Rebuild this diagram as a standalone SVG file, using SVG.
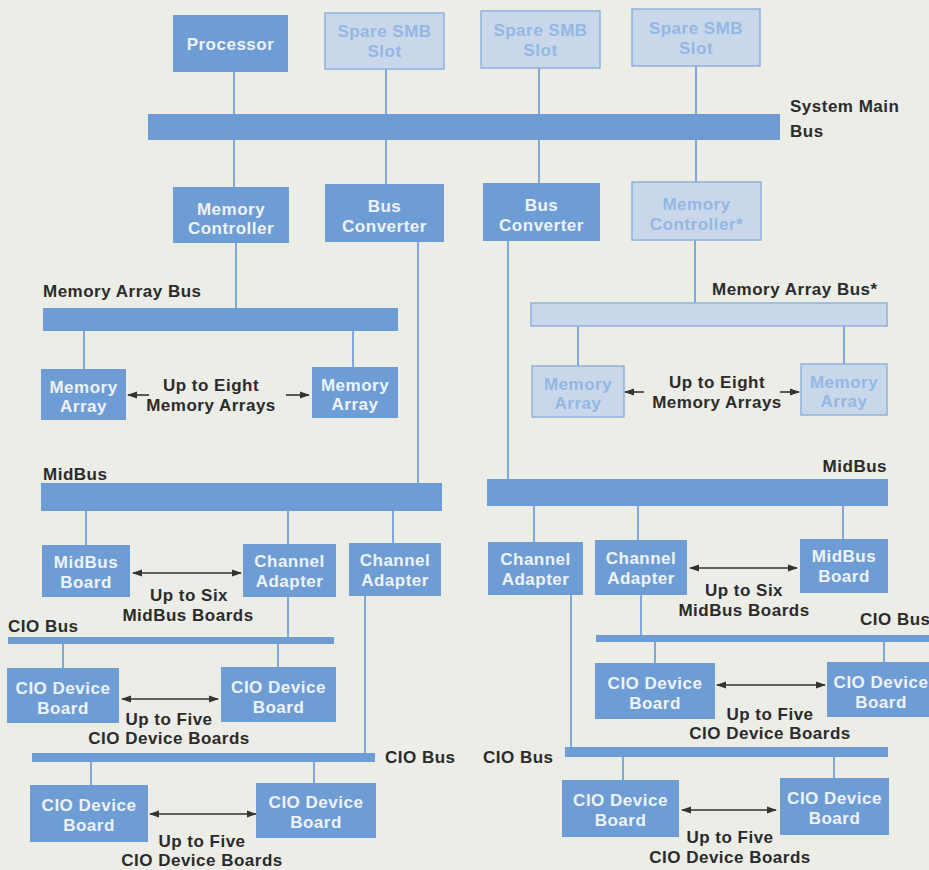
<svg xmlns="http://www.w3.org/2000/svg" width="929" height="870" viewBox="0 0 929 870">
  <defs>
    <style>
      .box { fill: #6e9dd6; }
      .opt { fill: #c9d7ea; stroke: #8fb1dd; stroke-width: 1.5; }
      .bus { fill: #6e9dd6; }
      .wire { stroke: #80a8d8; stroke-width: 2; fill: none; }
      .arr { stroke: #333333; stroke-width: 1.6; fill: none; }
      text { font-family: "Liberation Sans", Arial, sans-serif; font-weight: bold; font-size: 17px; letter-spacing: 0.5px; }
      .bt { fill: #eef3f9; text-anchor: middle; }
      .ot { fill: #94b7e4; text-anchor: middle; }
      .lab { fill: #2b2b2b; }
      .mid { text-anchor: middle; }
      .end { text-anchor: end; }
    </style>
    <marker id="head" markerUnits="userSpaceOnUse" markerWidth="10" markerHeight="8" refX="9" refY="4" orient="auto-start-reverse">
      <path d="M0,0.5 L10,4 L0,7.5 Z" fill="#333333"/>
    </marker>
  </defs>

  <!-- paper -->
  <rect x="0" y="0" width="929" height="870" fill="#ecede6"/>

  <!-- connectors: bus taps, inter-level links and "up to n" arrows -->
  <g id="connectors">
    <!-- system main bus taps -->
    <line class="wire" x1="234" y1="72" x2="234" y2="116"/>
    <line class="wire" x1="386" y1="69" x2="386" y2="116"/>
    <line class="wire" x1="539" y1="68" x2="539" y2="116"/>
    <line class="wire" x1="696" y1="66" x2="696" y2="116"/>
    <line class="wire" x1="234" y1="139" x2="234" y2="187"/>
    <line class="wire" x1="386" y1="139" x2="386" y2="184"/>
    <line class="wire" x1="539" y1="139" x2="539" y2="183"/>
    <line class="wire" x1="696" y1="139" x2="696" y2="182"/>
    <!-- controllers to memory array buses -->
    <line class="wire" x1="236" y1="243" x2="236" y2="308"/>
    <line class="wire" x1="695" y1="240" x2="695" y2="303"/>
    <line class="wire" x1="84" y1="331" x2="84" y2="369"/>
    <line class="wire" x1="353" y1="331" x2="353" y2="367"/>
    <line class="wire" x1="578" y1="326" x2="578" y2="366"/>
    <line class="wire" x1="844" y1="326" x2="844" y2="364"/>
    <!-- bus converters to midbuses -->
    <line class="wire" x1="418" y1="242" x2="418" y2="483"/>
    <line class="wire" x1="508" y1="241" x2="508" y2="479"/>
    <!-- midbus taps -->
    <line class="wire" x1="86" y1="511" x2="86" y2="545"/>
    <line class="wire" x1="288" y1="511" x2="288" y2="544"/>
    <line class="wire" x1="393" y1="511" x2="393" y2="543"/>
    <line class="wire" x1="534" y1="506" x2="534" y2="542"/>
    <line class="wire" x1="638" y1="506" x2="638" y2="540"/>
    <line class="wire" x1="843" y1="506" x2="843" y2="539"/>
    <!-- channel adapters to CIO buses -->
    <line class="wire" x1="288" y1="597" x2="288" y2="637"/>
    <line class="wire" x1="365" y1="596" x2="365" y2="753"/>
    <line class="wire" x1="641" y1="595" x2="641" y2="635"/>
    <line class="wire" x1="571" y1="595" x2="571" y2="747"/>
    <!-- CIO bus taps -->
    <line class="wire" x1="63" y1="644" x2="63" y2="668"/>
    <line class="wire" x1="278" y1="644" x2="278" y2="667"/>
    <line class="wire" x1="91" y1="762" x2="91" y2="785"/>
    <line class="wire" x1="314" y1="762" x2="314" y2="783"/>
    <line class="wire" x1="655" y1="642" x2="655" y2="663"/>
    <line class="wire" x1="884" y1="642" x2="884" y2="662"/>
    <line class="wire" x1="623" y1="757" x2="623" y2="780"/>
    <line class="wire" x1="834" y1="757" x2="834" y2="778"/>

    <!-- range arrows -->
    <line class="arr" x1="149" y1="395" x2="128" y2="395" marker-end="url(#head)"/>
    <line class="arr" x1="286" y1="395" x2="309" y2="395" marker-end="url(#head)"/>
    <line class="arr" x1="644" y1="392" x2="625" y2="392" marker-end="url(#head)"/>
    <line class="arr" x1="780" y1="392" x2="799" y2="392" marker-end="url(#head)"/>
    <line class="arr" x1="133" y1="573" x2="241" y2="573" marker-start="url(#head)" marker-end="url(#head)"/>
    <line class="arr" x1="690" y1="568" x2="797" y2="568" marker-start="url(#head)" marker-end="url(#head)"/>
    <line class="arr" x1="122" y1="699" x2="218" y2="699" marker-start="url(#head)" marker-end="url(#head)"/>
    <line class="arr" x1="150" y1="814" x2="256" y2="814" marker-start="url(#head)" marker-end="url(#head)"/>
    <line class="arr" x1="717" y1="685" x2="825" y2="685" marker-start="url(#head)" marker-end="url(#head)"/>
    <line class="arr" x1="682" y1="810" x2="776" y2="810" marker-start="url(#head)" marker-end="url(#head)"/>
  </g>

  <!-- buses -->
  <g id="system-main-bus">
    <rect class="bus" x="148" y="114" width="632" height="26"/>
    <text class="lab" x="790" y="112">System Main</text>
    <text class="lab" x="790" y="137">Bus</text>
  </g>
  <g id="memory-array-bus-1">
    <rect class="bus" x="43" y="308" width="355" height="23"/>
    <text class="lab" x="43" y="297">Memory Array Bus</text>
  </g>
  <g id="memory-array-bus-2">
    <rect class="opt" x="531" y="303" width="356" height="23"/>
    <text class="lab" x="712" y="295">Memory Array Bus*</text>
  </g>
  <g id="midbus-1">
    <rect class="bus" x="41" y="483" width="401" height="28"/>
    <text class="lab" x="43" y="480">MidBus</text>
  </g>
  <g id="midbus-2">
    <rect class="bus" x="487" y="479" width="401" height="27"/>
    <text class="lab end" x="887" y="472">MidBus</text>
  </g>
  <g id="cio-bus-1">
    <rect class="bus" x="8" y="637" width="326" height="7"/>
    <text class="lab" x="8" y="632">CIO Bus</text>
  </g>
  <g id="cio-bus-2">
    <rect class="bus" x="32" y="753" width="343" height="9"/>
    <text class="lab" x="385" y="763">CIO Bus</text>
  </g>
  <g id="cio-bus-3">
    <rect class="bus" x="596" y="635" width="340" height="7"/>
    <text class="lab" x="860" y="625">CIO Bus</text>
  </g>
  <g id="cio-bus-4">
    <rect class="bus" x="565" y="747" width="323" height="10"/>
    <text class="lab" x="483" y="763">CIO Bus</text>
  </g>

  <!-- system main bus modules -->
  <g id="processor">
    <rect class="box" x="173" y="15" width="115" height="57"/>
    <text class="bt" x="230.5" y="50">Processor</text>
  </g>
  <g id="spare-slot-1">
    <rect class="opt" x="325" y="13" width="119" height="56"/>
    <text class="ot" x="384.5" y="37">Spare SMB</text>
    <text class="ot" x="384.5" y="57">Slot</text>
  </g>
  <g id="spare-slot-2">
    <rect class="opt" x="481" y="11" width="119" height="57"/>
    <text class="ot" x="540.5" y="36">Spare SMB</text>
    <text class="ot" x="540.5" y="56">Slot</text>
  </g>
  <g id="spare-slot-3">
    <rect class="opt" x="632" y="9" width="128" height="57"/>
    <text class="ot" x="696" y="34">Spare SMB</text>
    <text class="ot" x="696" y="54">Slot</text>
  </g>
  <g id="memory-controller-1">
    <rect class="box" x="173" y="187" width="116" height="56"/>
    <text class="bt" x="231" y="215">Memory</text>
    <text class="bt" x="231" y="234">Controller</text>
  </g>
  <g id="bus-converter-1">
    <rect class="box" x="325" y="184" width="119" height="58"/>
    <text class="bt" x="384.5" y="212">Bus</text>
    <text class="bt" x="384.5" y="232">Converter</text>
  </g>
  <g id="bus-converter-2">
    <rect class="box" x="483" y="183" width="117" height="58"/>
    <text class="bt" x="541.5" y="211">Bus</text>
    <text class="bt" x="541.5" y="231">Converter</text>
  </g>
  <g id="memory-controller-2">
    <rect class="opt" x="632" y="182" width="129" height="58"/>
    <text class="ot" x="696.5" y="210">Memory</text>
    <text class="ot" x="696.5" y="230">Controller*</text>
  </g>

  <!-- memory arrays -->
  <g id="memory-array-1">
    <rect class="box" x="41" y="369" width="85" height="51"/>
    <text class="bt" x="83.5" y="393">Memory</text>
    <text class="bt" x="83.5" y="412">Array</text>
  </g>
  <g id="memory-array-2">
    <rect class="box" x="312" y="367" width="86" height="51"/>
    <text class="bt" x="355" y="391">Memory</text>
    <text class="bt" x="355" y="410">Array</text>
  </g>
  <g id="memory-arrays-note-1">
    <text class="lab mid" x="211" y="391">Up to Eight</text>
    <text class="lab mid" x="211" y="411">Memory Arrays</text>
  </g>
  <g id="memory-array-3">
    <rect class="opt" x="532" y="366" width="92" height="51"/>
    <text class="ot" x="578" y="390">Memory</text>
    <text class="ot" x="578" y="409">Array</text>
  </g>
  <g id="memory-array-4">
    <rect class="opt" x="801" y="364" width="86" height="51"/>
    <text class="ot" x="844" y="388">Memory</text>
    <text class="ot" x="844" y="407">Array</text>
  </g>
  <g id="memory-arrays-note-2">
    <text class="lab mid" x="717" y="388">Up to Eight</text>
    <text class="lab mid" x="717" y="408">Memory Arrays</text>
  </g>

  <!-- midbus boards and channel adapters -->
  <g id="midbus-board-1">
    <rect class="box" x="42" y="545" width="88" height="52"/>
    <text class="bt" x="86" y="568">MidBus</text>
    <text class="bt" x="86" y="588">Board</text>
  </g>
  <g id="channel-adapter-1">
    <rect class="box" x="243" y="544" width="93" height="53"/>
    <text class="bt" x="289.5" y="567">Channel</text>
    <text class="bt" x="289.5" y="587">Adapter</text>
  </g>
  <g id="channel-adapter-2">
    <rect class="box" x="349" y="543" width="92" height="53"/>
    <text class="bt" x="395" y="566">Channel</text>
    <text class="bt" x="395" y="586">Adapter</text>
  </g>
  <g id="midbus-note-1">
    <text class="lab mid" x="189" y="601">Up to Six</text>
    <text class="lab mid" x="188" y="621">MidBus Boards</text>
  </g>
  <g id="channel-adapter-3">
    <rect class="box" x="488" y="542" width="95" height="53"/>
    <text class="bt" x="535.5" y="565">Channel</text>
    <text class="bt" x="535.5" y="585">Adapter</text>
  </g>
  <g id="channel-adapter-4">
    <rect class="box" x="595" y="540" width="92" height="55"/>
    <text class="bt" x="641" y="564">Channel</text>
    <text class="bt" x="641" y="584">Adapter</text>
  </g>
  <g id="midbus-board-2">
    <rect class="box" x="800" y="539" width="88" height="54"/>
    <text class="bt" x="844" y="562">MidBus</text>
    <text class="bt" x="844" y="582">Board</text>
  </g>
  <g id="midbus-note-2">
    <text class="lab mid" x="744" y="596">Up to Six</text>
    <text class="lab mid" x="744" y="616">MidBus Boards</text>
  </g>

  <!-- CIO device boards -->
  <g id="cio-board-1">
    <rect class="box" x="7" y="668" width="112" height="55"/>
    <text class="bt" x="63" y="694">CIO Device</text>
    <text class="bt" x="63" y="714">Board</text>
  </g>
  <g id="cio-board-2">
    <rect class="box" x="221" y="667" width="115" height="55"/>
    <text class="bt" x="278.5" y="693">CIO Device</text>
    <text class="bt" x="278.5" y="713">Board</text>
  </g>
  <g id="cio-note-1">
    <text class="lab mid" x="169" y="725">Up to Five</text>
    <text class="lab mid" x="169" y="744">CIO Device Boards</text>
  </g>
  <g id="cio-board-3">
    <rect class="box" x="30" y="785" width="118" height="57"/>
    <text class="bt" x="89" y="811">CIO Device</text>
    <text class="bt" x="89" y="831">Board</text>
  </g>
  <g id="cio-board-4">
    <rect class="box" x="256" y="783" width="120" height="55"/>
    <text class="bt" x="316" y="808">CIO Device</text>
    <text class="bt" x="316" y="828">Board</text>
  </g>
  <g id="cio-note-2">
    <text class="lab mid" x="202" y="847">Up to Five</text>
    <text class="lab mid" x="202" y="866">CIO Device Boards</text>
  </g>
  <g id="cio-board-5">
    <rect class="box" x="595" y="663" width="120" height="56"/>
    <text class="bt" x="655" y="689">CIO Device</text>
    <text class="bt" x="655" y="709">Board</text>
  </g>
  <g id="cio-board-6">
    <rect class="box" x="827" y="662" width="110" height="55"/>
    <text class="bt" x="881" y="688">CIO Device</text>
    <text class="bt" x="881" y="708">Board</text>
  </g>
  <g id="cio-note-3">
    <text class="lab mid" x="770" y="720">Up to Five</text>
    <text class="lab mid" x="770" y="739">CIO Device Boards</text>
  </g>
  <g id="cio-board-7">
    <rect class="box" x="562" y="780" width="117" height="57"/>
    <text class="bt" x="620.5" y="806">CIO Device</text>
    <text class="bt" x="620.5" y="826">Board</text>
  </g>
  <g id="cio-board-8">
    <rect class="box" x="780" y="778" width="109" height="57"/>
    <text class="bt" x="834.5" y="804">CIO Device</text>
    <text class="bt" x="834.5" y="824">Board</text>
  </g>
  <g id="cio-note-4">
    <text class="lab mid" x="730" y="843">Up to Five</text>
    <text class="lab mid" x="730" y="863">CIO Device Boards</text>
  </g>
</svg>
